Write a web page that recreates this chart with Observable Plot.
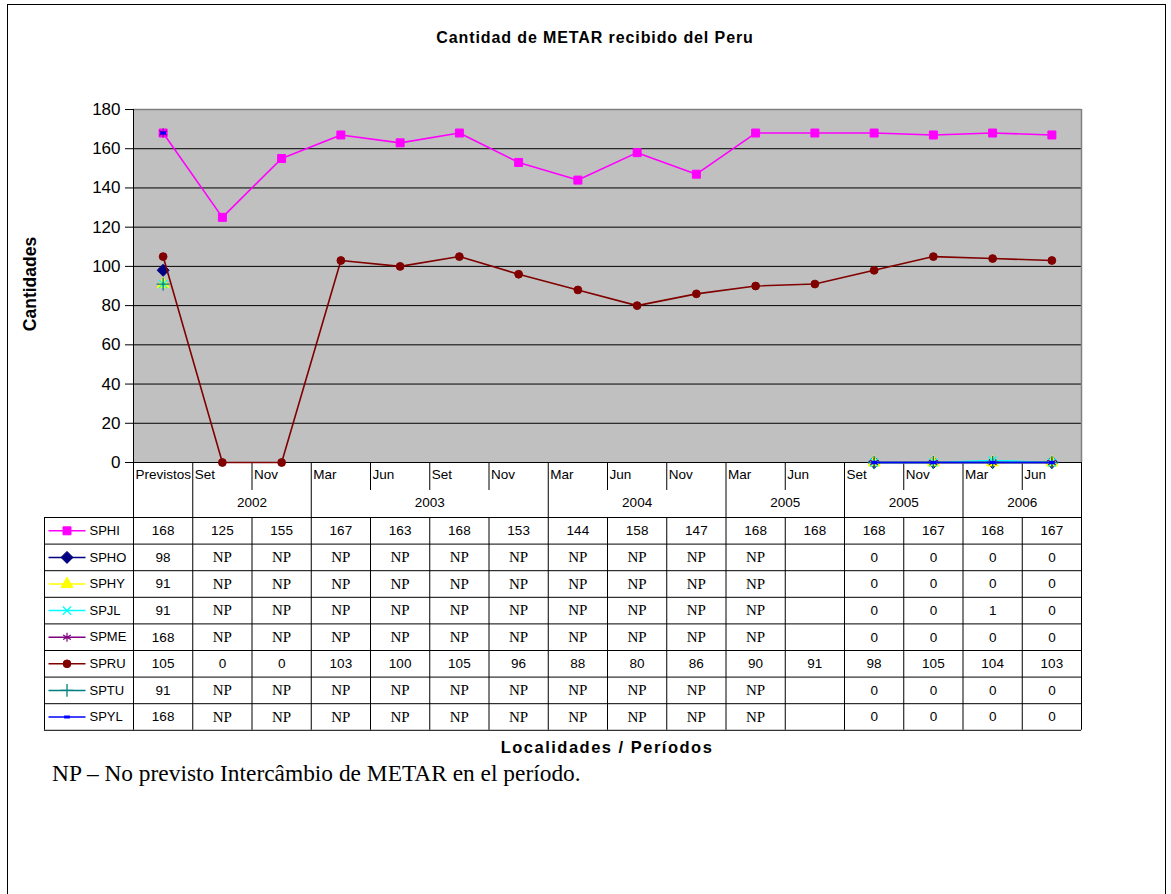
<!DOCTYPE html>
<html>
<head>
<meta charset="utf-8">
<script src="https://cdn.jsdelivr.net/npm/d3@7"></script>
<script src="https://cdn.jsdelivr.net/npm/@observablehq/plot@0.6"></script>
<style>
  html, body { margin: 0; padding: 0; background: #fff; }
  body { width: 1171px; height: 894px; position: relative; overflow: hidden; font-family: "Liberation Sans", Arial, sans-serif; }
  #frame { position: absolute; left: 7px; top: 4px; width: 1157px; height: 900px; border: 1px solid #000; border-bottom: none; }
  #chart { position: absolute; left: 0; top: 0; }
  .t { position: absolute; white-space: nowrap; color: #000; }
  #title { left: 595px; top: 38px; transform: translate(-50%, -50%); font-weight: bold; font-size: 16px; letter-spacing: 0.9px; }
  #ylabel { left: 30px; top: 284px; transform: translate(-50%, -50%) rotate(-90deg); font-weight: bold; font-size: 17.5px; }
  #xlabel { left: 607px; top: 747px; transform: translate(-50%, -50%); font-weight: bold; font-size: 16.5px; letter-spacing: 1.5px; }
  #note { left: 52px; top: 773px; transform: translateY(-50%); font-family: "Liberation Serif", "Times New Roman", serif; font-size: 23.4px; }
</style>
</head>
<body>
<div id="frame"></div>
<div id="chart"></div>
<div class="t" id="title">Cantidad de METAR recibido del Peru</div>
<div class="t" id="ylabel">Cantidades</div>
<div class="t" id="xlabel">Localidades / Períodos</div>
<div class="t" id="note">NP – No previsto Intercâmbio de METAR en el período.</div>
<script>
// ---------- data ----------
const columns = ["Previstos", "Set", "Nov", "Mar", "Jun", "Set", "Nov", "Mar", "Jun", "Nov", "Mar", "Jun", "Set", "Nov", "Mar", "Jun"];
const yearLabels = ["2002", "2003", "2004", "2005", "2005", "2006"];
const yearStarts = [1, 3, 7, 10, 12, 14];
const yearEnds   = [2, 6, 9, 11, 13, 15];
const yTicks = [0, 20, 40, 60, 80, 100, 120, 140, 160, 180];

const NP = "NP";
const B = null; // blank cell

const seriesNames = ["SPHI", "SPHO", "SPHY", "SPJL", "SPME", "SPRU", "SPTU", "SPYL"];
const SPHI = [168, 125, 155, 167, 163, 168, 153, 144, 158, 147, 168, 168, 168, 167, 168, 167];
const SPHO = [98, NP, NP, NP, NP, NP, NP, NP, NP, NP, NP, B, 0, 0, 0, 0];
const SPHY = [91, NP, NP, NP, NP, NP, NP, NP, NP, NP, NP, B, 0, 0, 0, 0];
const SPJL = [91, NP, NP, NP, NP, NP, NP, NP, NP, NP, NP, B, 0, 0, 1, 0];
const SPME = [168, NP, NP, NP, NP, NP, NP, NP, NP, NP, NP, B, 0, 0, 0, 0];
const SPRU = [105, 0, 0, 103, 100, 105, 96, 88, 80, 86, 90, 91, 98, 105, 104, 103];
const SPTU = [91, NP, NP, NP, NP, NP, NP, NP, NP, NP, NP, B, 0, 0, 0, 0];
const SPYL = [168, NP, NP, NP, NP, NP, NP, NP, NP, NP, NP, B, 0, 0, 0, 0];
const seriesValues = [SPHI, SPHO, SPHY, SPJL, SPME, SPRU, SPTU, SPYL];

// ---------- styles ----------
const colors = ["#FF00FF", "#000080", "#FFFF00", "#00FFFF", "#800080", "#800000", "#008080", "#0000FF"];
const dash = { draw(ctx, size) { const w = Math.sqrt(size) / 2.6; ctx.moveTo(-w, 0); ctx.lineTo(w, 0); } };
const symbols = ["square", "diamond2", "triangle", "times", "asterisk", "circle", "plus", dash];
const filled = [true, true, true, false, false, true, false, false];
const radii = [4.5, 5.4, 4.4, 3.8, 4.2, 3.9, 4.2, 4.2];
const symWidth = [1, 1, 1, 1.3, 1.2, 1, 1.3, 3];

// ---------- layout ----------
const W = 1171, H = 740;
const mL = 133, mR = 90, mT = 109, zeroPx = 462;
const pxPerUnit = (zeroPx - mT) / 180;
const colW = (W - mL - mR) / columns.length;
const yAt = (px) => -px / pxPerUnit;              // px below the zero line -> y value
const xAt = (px) => (px - mL) / colW - 0.5;        // absolute px -> x value
const monthRowC = 12, yearRowC = 40, headerBottom = 55, rowH = 26.6;
const tableBottom = headerBottom + seriesNames.length * rowH;

const marks = [];

// plot area
marks.push(Plot.frame({ fill: "#C0C0C0", stroke: "none" }));
marks.push(Plot.ruleY(yTicks.filter(d => d > 0 && d < 180), { stroke: "#000", strokeWidth: 1 }));
marks.push(Plot.ruleY([180], { stroke: "#808080", strokeWidth: 1.5 }));
marks.push(Plot.ruleX([columns.length - 0.5], { y1: 0, y2: 180, stroke: "#808080", strokeWidth: 1.5 }));
marks.push(Plot.ruleX([-0.5], { y1: 0, y2: 180, stroke: "#000", strokeWidth: 1 }));

// table grid
const groupEdges = [-0.5, 0.5, ...yearEnds.map(e => e + 0.5)];
const hLines = [{ y: 0, x1: -0.5, x2: columns.length - 0.5 }];
for (let k = 0; k <= seriesNames.length; k++) hLines.push({ y: yAt(headerBottom + k * rowH), x1: xAt(44), x2: columns.length - 0.5 });
const vLines = [];
for (const e of groupEdges) vLines.push({ x: e, y1: 0, y2: yAt(tableBottom) });
for (let i = 0; i <= columns.length; i++) {
  const e = i - 0.5;
  if (!groupEdges.includes(e)) {
    vLines.push({ x: e, y1: 0, y2: yAt(28) });
    vLines.push({ x: e, y1: yAt(headerBottom), y2: yAt(tableBottom) });
  }
}
vLines.push({ x: xAt(44), y1: yAt(headerBottom), y2: yAt(tableBottom) });
marks.push(Plot.ruleY(hLines, { y: "y", x1: "x1", x2: "x2", stroke: "#000", strokeWidth: 1 }));
marks.push(Plot.ruleX(vLines, { x: "x", y1: "y1", y2: "y2", stroke: "#000", strokeWidth: 1 }));

// header texts
marks.push(Plot.text(columns, { x: (d, i) => i - 0.5, y: () => yAt(monthRowC), text: d => d, textAnchor: "start", dx: 2, fontSize: 13.5, fill: "#000" }));
marks.push(Plot.text(yearLabels, { x: (d, i) => (yearStarts[i] + yearEnds[i]) / 2, y: () => yAt(yearRowC), text: d => d, fontSize: 13.5, fill: "#000" }));

// series lines + markers, legend, table cells
seriesNames.forEach((name, k) => {
  const vals = seriesValues[k];
  const pts = vals.map((v, i) => ({ i, v: typeof v === "number" ? v : NaN }));
  const c = colors[k];
  marks.push(Plot.line(pts, { x: "i", y: "v", stroke: c, strokeWidth: 1.6 }));
  const dotOpts = {
    symbol: symbols[k], r: radii[k],
    fill: filled[k] ? c : "none", stroke: c, strokeWidth: symWidth[k]
  };
  marks.push(Plot.dot(pts.filter(p => Number.isFinite(p.v)), { x: "i", y: "v", ...dotOpts }));

  const rc = yAt(headerBottom + rowH / 2 + k * rowH);
  // legend swatch
  marks.push(Plot.link([{ x1: xAt(48), x2: xAt(85), y: rc }], { x1: "x1", x2: "x2", y1: "y", y2: "y", stroke: c, strokeWidth: 1.5 }));
  marks.push(Plot.dot([{ x: xAt(66.5), y: rc }], { x: "x", y: "y", ...dotOpts }));
  marks.push(Plot.text([name], { x: () => xAt(89), y: () => rc, text: d => d, textAnchor: "start", fontSize: 13, fill: "#000" }));

  // cells
  const cells = vals.map((v, i) => ({ i, v })).filter(d => d.v !== null);
  marks.push(Plot.text(cells.filter(d => typeof d.v === "number"), { x: "i", y: () => rc, text: d => String(d.v), fontSize: 13.5, fill: "#000" }));
  marks.push(Plot.text(cells.filter(d => d.v === NP), { x: "i", y: () => rc, text: d => d.v, fontSize: 15, fontFamily: "Liberation Serif, Times New Roman, serif", fill: "#000" }));
});

const svg = Plot.plot({
  width: W,
  height: H,
  marginLeft: mL,
  marginRight: mR,
  marginTop: mT,
  marginBottom: H - zeroPx,
  style: { fontFamily: "Liberation Sans, Arial, sans-serif", fontSize: "17px", background: "transparent", overflow: "visible", color: "#000" },
  x: { domain: [-0.5, columns.length - 0.5], axis: null },
  y: { domain: [0, 180], ticks: yTicks, tickSize: 8, tickPadding: 5, label: null },
  marks
});
document.getElementById("chart").appendChild(svg);
</script>
</body>
</html>
